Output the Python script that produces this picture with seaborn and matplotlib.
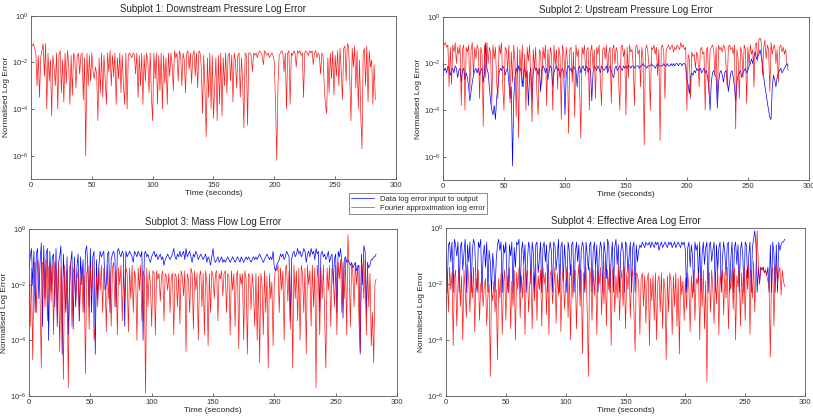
import numpy as np
import matplotlib
matplotlib.use("Agg")
import matplotlib.pyplot as plt
import seaborn as sns

# log10 of the normalised error, in tenths of a decade, one value per second (t = 0, 1, 2, ...)
down_fourier = [
    -13, -13, -12, -14, -16, -30, -17, -35, -18, -15, -12, -26, -12, -40, -16, -28, -19, -43, -17, -22,
    -30, -16, -40, -17, -15, -33, -19, -37, -16, -29, -15, -21, -38, -17, -34, -16, -18, -31, -17, -16,
    -25, -17, -16, -36, -18, -60, -16, -30, -17, -28, -16, -24, -27, -22, -25, -45, -18, -33, -16, -35,
    -17, -28, -38, -16, -24, -15, -30, -17, -26, -16, -38, -18, -27, -16, -33, -17, -30, -38, -16, -40,
    -17, -16, -17, -18, -16, -17, -25, -16, -35, -17, -30, -16, -38, -17, -28, -16, -19, -33, -16, -35,
    -45, -16, -27, -16, -38, -17, -32, -16, -40, -17, -29, -18, -38, -16, -26, -16, -21, -32, -15, -18,
    -16, -28, -15, -17, -30, -16, -19, -33, -16, -15, -23, -16, -29, -17, -15, -26, -16, -31, -15, -16,
    -22, -42, -17, -32, -52, -18, -35, -16, -40, -17, -44, -30, -18, -45, -17, -38, -16, -43, -18, -30,
    -16, -33, -17, -16, -28, -17, -37, -16, -19, -31, -17, -16, -35, -18, -29, -48, -16, -17, -47, -16,
    -16, -17, -24, -16, -17, -16, -18, -16, -15, -16, -17, -21, -15, -16, -17, -16, -18, -17, -16, -17,
    -20, -38, -62, -30, -17, -16, -15, -16, -24, -16, -40, -16, -15, -38, -16, -17, -15, -16, -22, -15,
    -16, -15, -17, -16, -35, -16, -15, -16, -17, -15, -16, -15, -21, -16, -15, -18, -16, -17, -25, -16,
    -17, -30, -38, -42, -18, -33, -16, -27, -15, -34, -17, -26, -15, -30, -14, -24, -36, -14, -13, -28,
    -12, -13, -27, -45, -14, -22, -13, -31, -15, -40, -19, -42, -57, -16, -14, -30, -13, -37, -15, -22,
    -19, -38, -21, -36,
]

up_data = [
    -20, -23, -22, -24, -21, -22, -25, -23, -22, -24, -21, -22, -26, -23, -22, -28, -23, -22, -27, -24,
    -26, -30, -36, -32, -28, -25, -23, -22, -24, -22, -25, -23, -22, -28, -24, -11, -22, -24, -30, -36,
    -40, -42, -38, -44, -35, -30, -24, -22, -23, -21, -22, -25, -23, -22, -28, -35, -30, -64, -35, -26,
    -22, -24, -21, -23, -22, -30, -24, -22, -26, -23, -38, -25, -22, -36, -24, -21, -23, -22, -25, -22,
    -32, -23, -21, -22, -24, -22, -27, -23, -21, -22, -30, -24, -22, -21, -23, -22, -26, -23, -22, -24,
    -42, -25, -22, -21, -23, -22, -24, -21, -22, -23, -30, -22, -21, -24, -22, -21, -23, -22, -21, -24,
    -22, -23, -36, -24, -21, -22, -23, -21, -22, -24, -21, -22, -23, -22, -21, -24, -22, -21, -23, -25,
    -26, -22, -21, -23, -22, -21, -22, -23, -21, -22, -21, -22, -21, -21, -22, -21, -21, -22, -21, -21,
    -21, -22, -21, -21, -20, -21, -21, -22, -21, -21, -21, -20, -21, -21, -22, -21, -20, -21, -21, -21,
    -21, -20, -21, -21, -20, -21, -21, -20, -21, -20, -21, -20, -20, -21, -20, -20, -21, -20, -20, -21,
    -27, -29, -33, -26, -24, -25, -23, -24, -22, -23, -23, -22, -24, -23, -22, -24, -23, -26, -30, -40,
    -28, -24, -23, -25, -26, -39, -28, -24, -23, -25, -28, -24, -23, -26, -32, -28, -24, -23, -26, -30,
    -36, -28, -25, -24, -23, -26, -24, -23, -22, -24, -23, -21, -20, -18, -20, -17, -15, -18, -17, -16,
    -14, -17, -20, -26, -30, -33, -37, -40, -43, -44, -30, -25, -27, -30, -26, -24, -23, -22, -24, -23,
    -22, -21, -20, -21,
]

up_fourier = [
    -11, -12, -11, -13, -12, -30, -13, -29, -12, -15, -11, -20, -13, -16, -12, -38, -14, -12, -40, -13,
    -15, -12, -32, -14, -11, -25, -13, -18, -12, -14, -35, -13, -16, -47, -12, -26, -11, -20, -13, -15,
    -38, -12, -18, -13, -28, -35, -12, -16, -11, -30, -40, -13, -14, -23, -12, -37, -15, -28, -12, -19,
    -43, -13, -52, -14, -25, -12, -30, -16, -40, -13, -19, -12, -27, -45, -14, -22, -13, -33, -42, -14,
    -15, -29, -13, -18, -12, -38, -14, -24, -13, -16, -40, -12, -21, -14, -31, -13, -17, -44, -12, -15,
    -26, -13, -19, -50, -14, -13, -28, -15, -43, -12, -17, -14, -30, -52, -13, -16, -12, -25, -14, -13,
    -40, -15, -12, -22, -14, -35, -13, -16, -12, -27, -38, -14, -13, -18, -12, -24, -15, -13, -37, -14,
    -12, -20, -13, -15, -28, -40, -13, -12, -17, -14, -42, -13, -26, -12, -15, -14, -21, -38, -13, -12,
    -16, -14, -30, -13, -18, -55, -14, -12, -15, -22, -40, -13, -14, -12, -16, -13, -25, -14, -53, -13,
    -12, -15, -35, -14, -13, -12, -14, -13, -12, -15, -13, -14, -12, -13, -14, -11, -13, -12, -14, -13,
    -40, -16, -18, -35, -15, -17, -16, -22, -15, -17, -30, -14, -13, -16, -15, -40, -14, -13, -33, -14,
    -13, -12, -14, -25, -13, -38, -12, -14, -13, -15, -12, -13, -20, -30, -13, -12, -14, -13, -16, -12,
    -48, -14, -18, -35, -13, -15, -26, -12, -14, -37, -13, -21, -12, -16, -14, -30, -12, -11, -19, -10,
    -9, -11, -25, -13, -10, -18, -12, -14, -32, -11, -16, -13, -12, -20, -14, -28, -13, -12, -15, -13,
    -16, -14, -20, -23,
]

mass_data = [
    -14, -10, -7, -20, -8, -30, -9, -7, -25, -12, -5, -35, -6, -25, -9, -7, -40, -8, -22, -10,
    -9, -28, -7, -35, -12, -10, -6, -45, -9, -20, -30, -10, -38, -22, -12, -8, -36, -10, -28, -14,
    -9, -33, -10, -20, -11, -30, -8, -6, -14, -28, -7, -30, -10, -8, -45, -11, -25, -13, -8, -10,
    -9, -8, -22, -20, -9, -8, -30, -11, -9, -8, -10, -28, -8, -7, -9, -10, -8, -9, -35, -8,
    -10, -9, -8, -9, -10, -12, -8, -9, -10, -8, -9, -10, -8, -40, -9, -8, -10, -9, -11, -12,
    -10, -9, -8, -10, -9, -11, -10, -9, -11, -10, -13, -11, -10, -9, -10, -11, -10, -9, -7, -10,
    -11, -9, -10, -8, -10, -9, -8, -11, -7, -10, -9, -8, -10, -12, -9, -10, -8, -9, -11, -10,
    -9, -10, -11, -10, -9, -12, -10, -11, -13, -10, -7, -11, -12, -11, -10, -12, -11, -10, -12, -11,
    -12, -11, -10, -11, -12, -11, -10, -11, -12, -11, -10, -11, -12, -10, -11, -12, -11, -10, -11, -10,
    -11, -12, -11, -10, -11, -10, -11, -10, -9, -10, -11, -12, -11, -10, -9, -10, -11, -10, -11, -8,
    -14, -15, -13, -12, -11, -9, -10, -9, -11, -10, -8, -9, -10, -33, -11, -9, -8, -10, -9, -7,
    -9, -8, -10, -9, -7, -8, -12, -9, -8, -10, -7, -9, -8, -11, -7, -9, -8, -30, -9, -8,
    -10, -9, -11, -10, -8, -12, -10, -9, -20, -11, -9, -30, -8, -10, -7, -12, -32, -11, -10, -12,
    -11, -12, -13, -12, -14, -13, -12, -15, -14, -13, -45, -9, -20, -6, -8, -30, -12, -14, -13, -11,
    -11, -10, -10, -9,
]

mass_fourier = [
    -18, -35, -14, -47, -13, -12, -30, -11, -14, -25, -50, -12, -13, -28, -11, -33, -14, -12, -26, -13,
    -38, -12, -15, -30, -12, -44, -14, -20, -54, -13, -29, -15, -57, -14, -12, -35, -16, -13, -27, -18,
    -15, -33, -20, -14, -30, -17, -52, -16, -13, -36, -14, -24, -12, -40, -35, -17, -28, -14, -22, -13,
    -30, -14, -18, -37, -13, -25, -15, -35, -14, -12, -28, -15, -38, -14, -20, -13, -33, -15, -26, -14,
    -16, -37, -14, -25, -13, -30, -15, -18, -40, -14, -22, -13, -33, -15, -17, -59, -14, -28, -15, -20,
    -35, -15, -16, -38, -15, -18, -16, -26, -17, -15, -33, -16, -17, -22, -16, -30, -17, -16, -38, -16,
    -17, -28, -16, -34, -15, -17, -24, -15, -44, -16, -18, -30, -14, -16, -36, -15, -22, -16, -40, -17,
    -15, -28, -16, -38, -15, -19, -42, -16, -30, -15, -17, -25, -16, -15, -33, -16, -18, -15, -24, -16,
    -15, -30, -16, -17, -38, -15, -22, -16, -35, -17, -15, -43, -16, -20, -16, -40, -15, -18, -45, -16,
    -17, -29, -16, -22, -35, -16, -40, -17, -48, -16, -20, -38, -15, -30, -17, -50, -16, -25, -19, -42,
    -18, -14, -15, -13, -30, -14, -22, -15, -40, -14, -13, -26, -15, -36, -14, -50, -13, -25, -15, -33,
    -14, -40, -13, -16, -30, -14, -45, -13, -20, -15, -35, -13, -28, -14, -57, -13, -18, -38, -14, -25,
    -13, -32, -50, -14, -22, -13, -35, -14, -16, -28, -13, -38, -12, -18, -11, -30, -12, -25, -11, -38,
    -2, -14, -35, -12, -16, -28, -12, -20, -13, -33, -44, -12, -14, -25, -11, -38, -13, -28, -16, -42,
    -30, -48, -20, -18,
]

area_data = [
    -8, -23, -6, -5, -12, -5, -23, -4, -6, -10, -5, -23, -7, -5, -15, -9, -4, -23, -6, -12,
    -5, -23, -8, -4, -6, -18, -23, -5, -7, -4, -23, -10, -6, -14, -5, -23, -8, -12, -23, -9,
    -14, -23, -11, -6, -4, -8, -5, -23, -6, -9, -5, -18, -23, -6, -10, -5, -23, -7, -14, -5,
    -6, -4, -23, -8, -5, -13, -6, -23, -12, -5, -7, -20, -5, -9, -23, -6, -5, -16, -11, -5,
    -23, -7, -5, -12, -6, -23, -9, -5, -8, -23, -5, -6, -15, -10, -4, -23, -7, -5, -19, -6,
    -13, -23, -5, -8, -17, -6, -5, -23, -9, -5, -12, -6, -23, -8, -5, -7, -23, -5, -10, -15,
    -6, -5, -23, -8, -5, -14, -6, -23, -10, -5, -7, -23, -5, -9, -18, -4, -6, -23, -11, -5,
    -23, -7, -4, -13, -6, -23, -9, -5, -8, -23, -5, -6, -16, -10, -5, -23, -7, -5, -23, -6,
    -12, -8, -6, -7, -5, -6, -7, -5, -6, -6, -5, -7, -5, -6, -7, -5, -6, -5, -8, -6,
    -5, -7, -6, -5, -6, -7, -5, -6, -5, -7, -6, -5, -7, -6, -5, -6, -7, -5, -6, -5,
    -8, -23, -7, -5, -14, -6, -10, -23, -5, -8, -6, -19, -5, -23, -9, -5, -13, -7, -5, -23,
    -6, -5, -12, -8, -5, -23, -6, -15, -7, -5, -23, -11, -5, -9, -17, -6, -5, -23, -11, -5,
    -23, -7, -5, -13, -6, -23, -8, -5, -10, -23, -5, -6, -18, -10, -5, -23, -7, -4, -1, -6,
    -23, -14, -20, -14, -15, -14, -16, -15, -17, -14, -23, -6, -23, -5, -9, -23, -6, -23, -5, -8,
    -6, -5, -5, -4,
]

area_fourier = [
    -27, -15, -30, -14, -22, -16, -42, -18, -15, -35, -20, -14, -28, -17, -40, -15, -22, -32, -13, -19,
    -30, -16, -25, -14, -37, -18, -22, -15, -33, -20, -19, -28, -21, -18, -35, -24, -20, -53, -22, -26,
    -19, -30, -22, -47, -18, -25, -16, -38, -20, -15, -33, -17, -23, -14, -36, -19, -28, -15, -40, -16,
    -22, -14, -32, -17, -25, -13, -38, -18, -15, -30, -20, -14, -36, -16, -26, -13, -33, -17, -22, -15,
    -35, -14, -20, -16, -31, -13, -38, -17, -15, -27, -21, -14, -34, -16, -24, -13, -37, -18, -15, -29,
    -20, -14, -32, -16, -40, -13, -25, -17, -15, -36, -19, -13, -28, -15, -45, -16, -22, -14, -30, -53,
    -14, -18, -33, -15, -24, -13, -38, -16, -20, -14, -31, -17, -27, -12, -35, -15, -22, -13, -42, -16,
    -14, -30, -17, -25, -13, -33, -19, -15, -28, -14, -36, -16, -22, -13, -32, -18, -15, -29, -44, -16,
    -17, -20, -38, -18, -16, -28, -17, -34, -19, -16, -42, -18, -26, -17, -33, -16, -40, -19, -17, -30,
    -16, -36, -18, -22, -47, -17, -30, -16, -19, -38, -17, -28, -16, -35, -18, -45, -17, -24, -19, -33,
    -18, -29, -16, -22, -37, -17, -25, -15, -33, -18, -20, -16, -40, -17, -28, -15, -36, -19, -55, -17,
    -16, -30, -15, -22, -34, -16, -27, -14, -38, -17, -20, -15, -31, -16, -25, -14, -36, -18, -22, -15,
    -29, -14, -40, -17, -21, -13, -35, -16, -27, -14, -33, -15, -22, -13, -38, -15, -25, -12, -30, -14,
    -1, -13, -20, -14, -15, -14, -16, -15, -17, -19, -22, -46, -16, -14, -35, -15, -13, -20, -16, -14,
    -24, -15, -19, -21,
]

titles = [
    "Subplot 1: Downstream Pressure Log Error",
    "Subplot 2: Upstream Pressure Log Error",
    "Subplot 3: Mass Flow Log Error",
    "Subplot 4: Effective Area Log Error",
]
legend_labels = ["Data log error input to output", "Fourier approximation log error"]

sns.set_style("ticks")
plt.rcParams["font.family"] = ["Liberation Sans", "DejaVu Sans"]
plt.rcParams["xtick.direction"] = "in"
plt.rcParams["ytick.direction"] = "in"


def decades(vals):
    # tenths of a decade -> error value
    return 10.0 ** (np.array(vals) / 10.0)


fig = plt.figure(figsize=(8.13, 4.19), dpi=100)
boxes = [
    [0.0381, 0.5728, 0.449, 0.3897],
    [0.5449, 0.5704, 0.450, 0.389],
    [0.0357, 0.0549, 0.4526, 0.3986],
    [0.5486, 0.0549, 0.4416, 0.4009],
]
axes = [fig.add_axes(b) for b in boxes]

series = [
    (None, down_fourier),
    (up_data, up_fourier),
    (mass_data, mass_fourier),
    (area_data, area_fourier),
]
bottoms = [1e-7, 1e-7, 1e-6, 1e-6]

for ax, (blue, red), title, bottom in zip(axes, series, titles, bottoms):
    if blue is not None:
        sns.lineplot(x=np.arange(len(blue)), y=decades(blue), ax=ax,
                     color="b", lw=0.5, estimator=None, label=legend_labels[0])
    sns.lineplot(x=np.arange(len(red)), y=decades(red), ax=ax,
                 color="r", lw=0.5, alpha=0.9, estimator=None, label=legend_labels[1])
    ax.set_yscale("log")
    ax.set_ylim(bottom, 1)
    ax.set_xlim(0, 300)
    ax.set_xticks(range(0, 301, 50))
    ax.set_yticks([1e0, 1e-2, 1e-4, 1e-6])
    ax.yaxis.set_minor_locator(matplotlib.ticker.NullLocator())
    ax.tick_params(labelsize=5.5, length=2.5, width=0.5, colors="#333333", pad=2)
    ax.set_title(title, fontsize=7, pad=3)
    ax.set_xlabel("Time (seconds)", fontsize=6, labelpad=1)
    ax.set_ylabel("Normalised Log Error", fontsize=6, labelpad=1)
    for sp in ax.spines.values():
        sp.set_linewidth(0.6)
        sp.set_color("#555555")
    ax.get_legend().remove()

handles, labels = axes[1].get_legend_handles_labels()
leg = fig.legend(handles, labels, loc="center", bbox_to_anchor=(418 / 813, 1 - 203.5 / 419),
                 fontsize=5.5, frameon=True, fancybox=False, edgecolor="#333333",
                 handlelength=3, borderpad=0.3, labelspacing=0.2)
leg.get_frame().set_linewidth(0.5)

fig.savefig("out.png", dpi=100)
